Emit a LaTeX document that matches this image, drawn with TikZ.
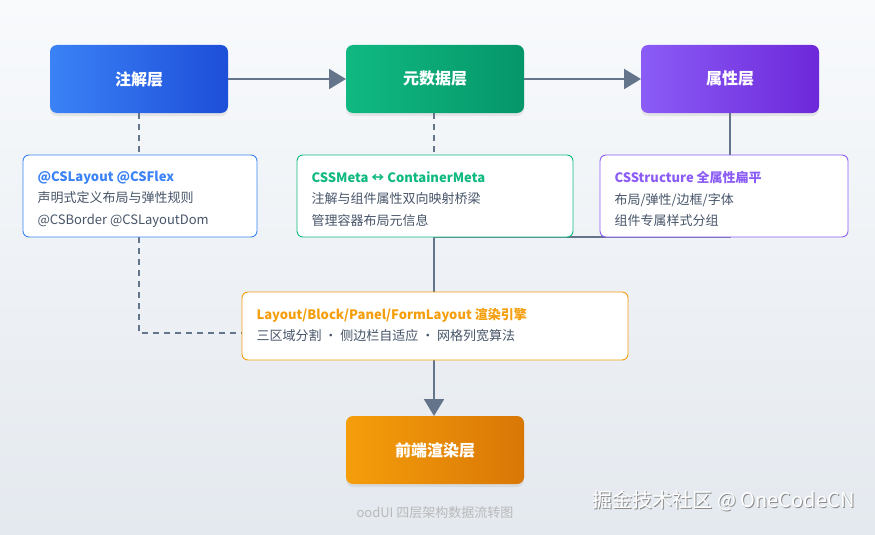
\documentclass[tikz,border=0pt]{standalone}
\usepackage{fontspec}
\setmainfont{Noto Sans CJK SC}
\usetikzlibrary{arrows.meta,shadows}
\definecolor{bl}{HTML}{3B82F6}\definecolor{bld}{HTML}{1D4ED8}
\definecolor{gr}{HTML}{10B981}\definecolor{grd}{HTML}{059669}
\definecolor{pu}{HTML}{8B5CF6}\definecolor{pud}{HTML}{6D28D9}
\definecolor{or}{HTML}{F59E0B}\definecolor{ord}{HTML}{D97706}
\definecolor{ln}{HTML}{64748B}\definecolor{tx}{HTML}{475569}
\definecolor{bg1}{HTML}{F8FAFC}\definecolor{bg2}{HTML}{E4E9EF}
\begin{document}
\begin{tikzpicture}[x=1pt,y=-1pt,
 top/.style={rounded corners=7pt,draw=none,drop shadow={opacity=0.15,shadow xshift=0pt,shadow yshift=-3pt}},
 card/.style={rounded corners=6pt,fill=white,line width=0.9pt},
 ttl/.style={text=white,font=\bfseries\fontsize{16}{18}\selectfont},
 ctx/.style={anchor=west,align=left,font=\fontsize{13}{21.5}\selectfont,text=tx},
 arr/.style={line width=2.2pt,draw=ln,-{Triangle[length=17pt,width=20pt]}},
 dsh/.style={line width=2pt,draw=ln,dash pattern=on 6pt off 5pt},
 sol/.style={line width=2pt,draw=ln}]
\shade[top color=bg1,bottom color=bg2] (0,0) rectangle (875,535);
\useasboundingbox (0,0) rectangle (875,535);
\coordinate (c1) at (139,333);
\coordinate (c2) at (730,237);
\coordinate (c3) at (434,237);
\draw[sol] (730,113) -- (c2) -- (c3);
\draw[dsh] (139,113) -- (139,155);
\draw[dsh] (434,113) -- (434,155);
\draw[dsh] (139,237) -- (c1) -- (242,333);
\draw[arr] (c3) -- (434,416);
\shade[top,left color=bl,right color=bld] (50,45) rectangle (228,113);
\node[ttl] (a) at (139,79) {注解层};
\shade[top,left color=gr,right color=grd] (346,45) rectangle (524,113);
\node[ttl] (b) at (435,79) {元数据层};
\shade[top,left color=pu,right color=pud] (641,45) rectangle (819,113);
\node[ttl] (c) at (730,79) {属性层};
\draw[arr] (228,79) -- (346,79);
\draw[arr] (524,79) -- (641,79);
\draw[card,draw=bl] (23,155) rectangle (257,237);
\node[ctx] (d) at (34,199) {\textcolor{bl}{\bfseries @CSLayout @CSFlex}\\声明式定义布局与弹性规则\\@CSBorder @CSLayoutDom};
\draw[card,draw=gr] (297,155) rectangle (573,237);
\node[ctx] (e) at (308,199) {\textcolor{gr}{\bfseries CSSMeta ↔ ContainerMeta}\\注解与组件属性双向映射桥梁\\管理容器布局元信息};
\draw[card,draw=pu] (600,155) rectangle (848,237);
\node[ctx] (f) at (611,199) {\textcolor{pu}{\bfseries CSStructure 全属性扁平}\\布局/弹性/边框/字体\\组件专属样式分组};
\draw[card,draw=or] (242,292) rectangle (628,360);
\node[ctx] (g) at (253,325) {\textcolor{or}{\bfseries Layout/Block/Panel/FormLayout 渲染引擎}\\三区域分割 · 侧边栏自适应 · 网格列宽算法};
\shade[top,left color=or,right color=ord] (346,416) rectangle (524,484);
\node[ttl] (h) at (435,450) {前端渲染层};
\node[text=gray!55,font=\fontsize{13}{14}\selectfont] (cap) at (435,513) {oodUI 四层架构数据流转图};
\node[text=black!45,font=\fontsize{20}{22}\selectfont,anchor=east] at (859,502) {掘金技术社区 @ OneCodeCN};
\node[text=white,font=\fontsize{20}{22}\selectfont,anchor=east] (wm) at (858,501) {掘金技术社区 @ OneCodeCN};
\end{tikzpicture}
\end{document}
